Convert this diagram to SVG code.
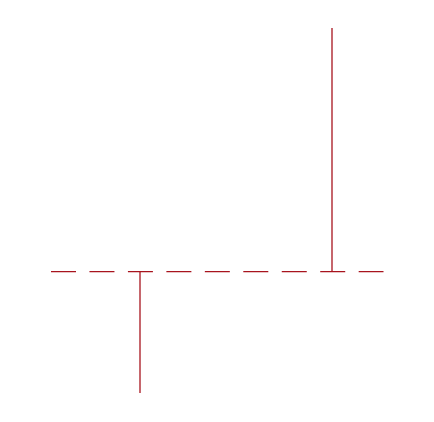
<svg xmlns="http://www.w3.org/2000/svg" width="434" height="422" viewBox="0 0 434 422">
<style>
.ln{stroke:#a8141e;stroke-width:1.3;fill:none}
</style>
<rect width="434" height="422" fill="#ffffff"/>
<line class="ln" x1="51" y1="271.6" x2="383.5" y2="271.6" stroke-dasharray="25 13.46"/>
<line class="ln" x1="332" y1="28" x2="332" y2="271.6"/>
<line class="ln" x1="140" y1="271.6" x2="140" y2="393"/>
</svg>
